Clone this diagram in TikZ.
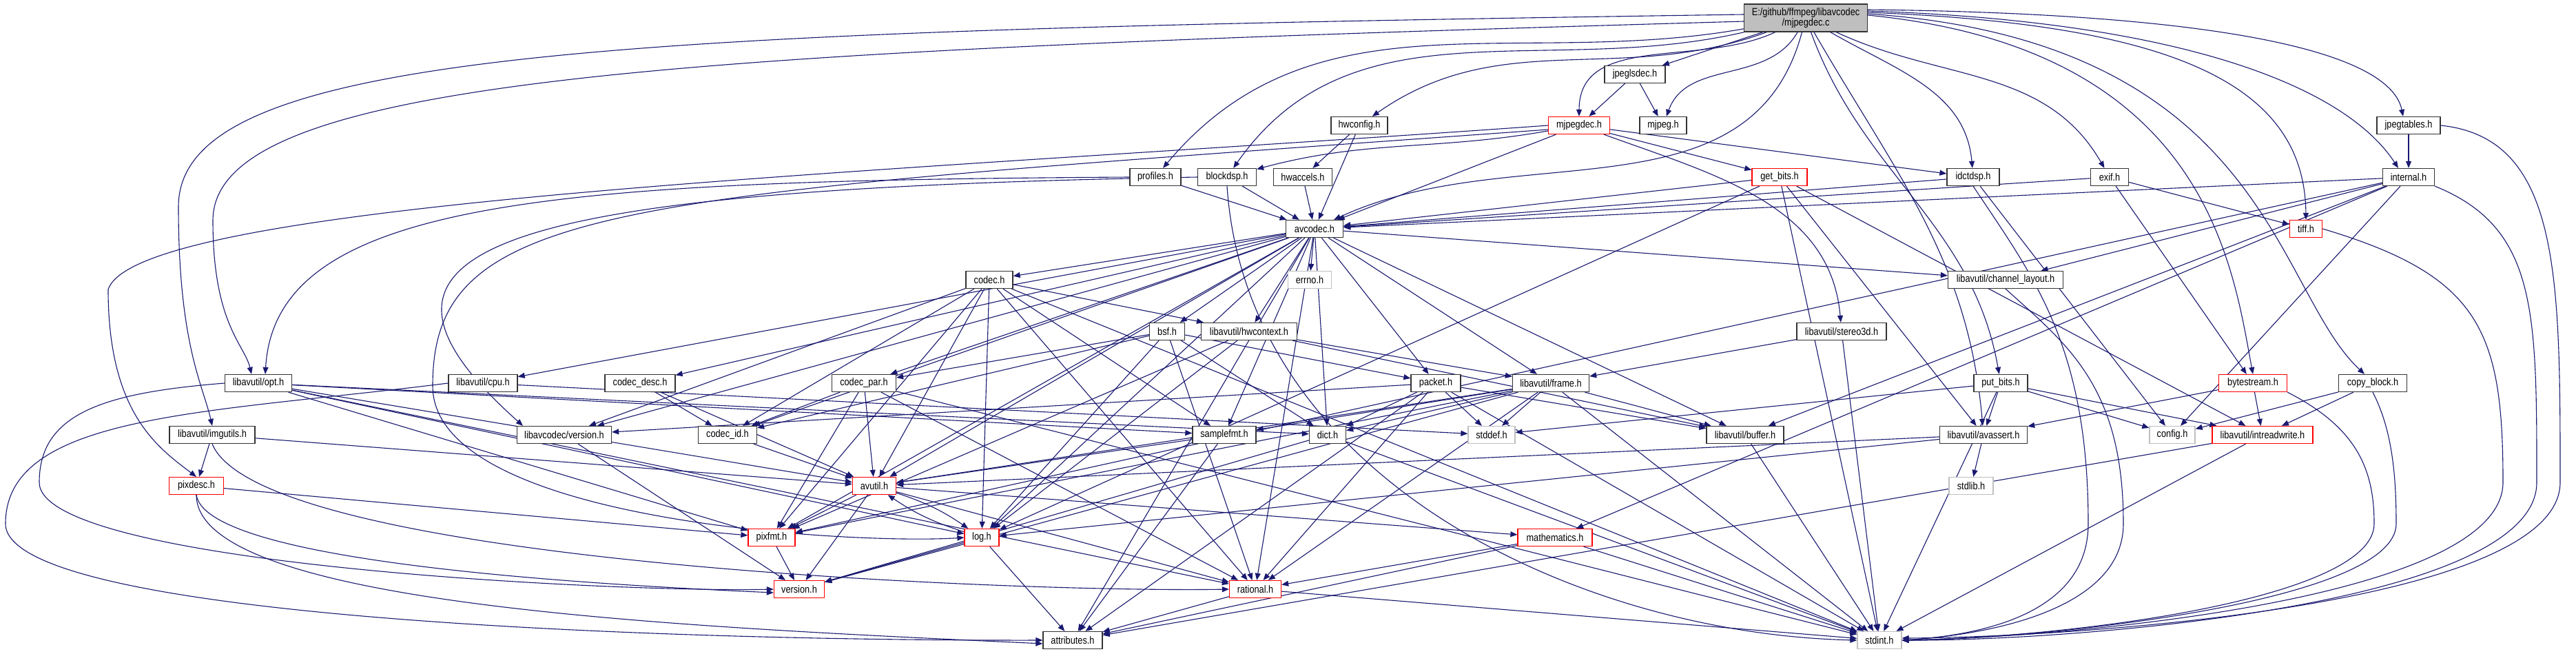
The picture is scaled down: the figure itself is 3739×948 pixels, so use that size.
\documentclass[tikz,border=0pt]{standalone}
\usepackage{fontspec}
\setmainfont{Liberation Sans}[FakeStretch=0.85]
\usetikzlibrary{arrows.meta}
\definecolor{ec}{HTML}{191970}
\definecolor{gbord}{HTML}{BFBFBF}
\pgfdeclarelayer{bg}
\pgfdeclarelayer{paper}
\pgfsetlayers{paper,bg,main}
\begin{document}
\begin{tikzpicture}[x=1pt,y=1pt,
 nb/.style={draw=black!80, fill=white, line width=1.3pt, minimum height=25pt, inner sep=0pt, font=\fontsize{15}{15}\selectfont},
 nr/.style={nb, draw=red},
 ng/.style={nb, draw=gbord},
 ed/.style={draw=ec, line width=1.1pt, -{Triangle[length=10pt,width=8pt]}}]
\useasboundingbox (0,0) rectangle (3739,-948);
\begin{pgfonlayer}{paper}
\fill[white] (0,0) rectangle (3739,-948);
\end{pgfonlayer}
% nodes
\node[nb, fill=gbord, minimum width=179pt, minimum height=40pt, align=center] (m) at (2621,-26) {E:/github/ffmpeg/libavcodec\\/mjpegdec.c};
\node[nb, minimum width=88pt] (jls) at (2373,-108) {jpeglsdec.h};
\node[nr, minimum width=89pt] (mjd) at (2292,-182) {mjpegdec.h};
\node[nb, minimum width=68pt] (mjp) at (2414,-182) {mjpeg.h};
\node[nb, minimum width=82pt] (hwc) at (1973,-182) {hwconfig.h};
\node[nb, minimum width=92pt] (jpt) at (3496,-182) {jpegtables.h};
\node[nb, minimum width=74pt] (prof) at (1677,-257) {profiles.h};
\node[nb, minimum width=85pt] (bdsp) at (1781,-257) {blockdsp.h};
\node[nb, minimum width=85pt] (hwa) at (1891,-257) {hwaccels.h};
\node[nr, minimum width=80pt] (gb) at (2583,-257) {get\_bits.h};
\node[nb, minimum width=76pt] (idct) at (2864,-257) {idctdsp.h};
\node[nb, minimum width=55pt] (exif) at (3062,-257) {exif.h};
\node[nb, minimum width=75pt] (intl) at (3496,-257) {internal.h};
\node[nb, minimum width=83pt] (avc) at (1908,-332) {avcodec.h};
\node[nr, minimum width=47pt] (tiff) at (3347,-332) {tiff.h};
\node[ng, minimum width=63pt] (errno) at (1901,-406) {errno.h};
\node[nb, minimum width=68pt] (codec) at (1436,-406) {codec.h};
\node[nb, minimum width=167pt] (chl) at (2911,-406) {libavutil/channel\_layout.h};
\node[nb, minimum width=51pt] (bsf) at (1694,-481) {bsf.h};
\node[nb, minimum width=139pt] (hwctx) at (1813,-481) {libavutil/hwcontext.h};
\node[nb, minimum width=130pt] (s3d) at (2673,-481) {libavutil/stereo3d.h};
\node[nb, minimum width=97pt] (opt) at (375,-556) {libavutil/opt.h};
\node[nb, minimum width=100pt] (cpu) at (701,-556) {libavutil/cpu.h};
\node[nb, minimum width=102pt] (cdesc) at (929,-556) {codec\_desc.h};
\node[nb, minimum width=93pt] (cpar) at (1254,-556) {codec\_par.h};
\node[nb, minimum width=72pt] (pkt) at (2084,-556) {packet.h};
\node[nb, minimum width=111pt] (frame) at (2251,-556) {libavutil/frame.h};
\node[nb, minimum width=78pt] (pb) at (2904,-556) {put\_bits.h};
\node[nr, minimum width=99pt] (bs) at (3270,-556) {bytestream.h};
\node[nb, minimum width=99pt] (cb) at (3444,-556) {copy\_block.h};
\node[nb, minimum width=124pt] (img) at (308,-631) {libavutil/imgutils.h};
\node[nb, minimum width=137pt] (lver) at (819,-631) {libavcodec/version.h};
\node[nb, minimum width=85pt] (cid) at (1056,-631) {codec\_id.h};
\node[nb, minimum width=92pt] (sfmt) at (1777,-631) {samplefmt.h};
\node[nb, minimum width=53pt] (dict) at (1927,-631) {dict.h};
\node[ng, minimum width=68pt] (stddef) at (2165,-631) {stddef.h};
\node[nb, minimum width=112pt] (buf) at (2533,-631) {libavutil/buffer.h};
\node[nb, minimum width=127pt] (avas) at (2879,-631) {libavutil/avassert.h};
\node[ng, minimum width=66pt] (cfg) at (3153,-631) {config.h};
\node[nr, minimum width=146pt] (irw) at (3284,-631) {libavutil/intreadwrite.h};
\node[nr, minimum width=79pt] (pixd) at (285,-705) {pixdesc.h};
\node[nr, minimum width=63pt] (avu) at (1269,-705) {avutil.h};
\node[ng, minimum width=64pt] (stdlib) at (2861,-705) {stdlib.h};
\node[nr, minimum width=68pt] (pixf) at (1120,-780) {pixfmt.h};
\node[nr, minimum width=50pt] (log) at (1425,-780) {log.h};
\node[nr, minimum width=108pt] (math) at (2257,-780) {mathematics.h};
\node[nr, minimum width=73pt] (ver) at (1160,-855) {version.h};
\node[nr, minimum width=75pt] (rat) at (1822,-855) {rational.h};
\node[nb, minimum width=86pt] (attr) at (1557,-929) {attributes.h};
\node[ng, minimum width=64pt] (stdint) at (2728,-929) {stdint.h};
% waypoints
\coordinate (k1) at (259,-300);
\coordinate (k2) at (309,-320);
\coordinate (k3) at (157,-420);
\coordinate (k4) at (628,-560);
\coordinate (k5) at (8,-760);
\coordinate (k6) at (57,-700);
\coordinate (r1) at (3716,-700);
\coordinate (r2) at (3682,-700);
\coordinate (r3) at (3633,-700);
\coordinate (r4) at (3478,-760);
\coordinate (r4b) at (3446,-760);
\coordinate (r5) at (3082,-760);
\coordinate (r6) at (3031,-760);
\begin{pgfonlayer}{bg}
% main file
\draw[ed] ([yshift=5]m.west) .. controls (900,-45) and (259,-70) .. (k1) .. controls (259,-500) and (295,-560) .. (img.north);
\draw[ed] ([yshift=-5]m.west) .. controls (1000,-75) and (309,-110) .. (k2) .. controls (309,-470) and (355,-500) .. ([xshift=-10]opt.north);
\draw[ed] (m) to[out=190,in=50] (prof);
\draw[ed] (m) to[out=193,in=55] (bdsp);
\draw[ed] (m) to[out=200,in=35] (hwc);
\draw[ed] (m) to[out=205,in=90] (mjd);
\draw[ed] (m) -- (jls);
\draw[ed] (m) to[out=-120,in=70] (mjp);
\draw[ed] (m) to[out=-105,in=25] (avc);
\draw[ed] (m) to[out=-30,in=95] (idct);
\draw[ed] (m) to[out=-25,in=120] (exif);
\draw[ed] ([yshift=8]m.east) .. controls (3150,-35) and (3345,-120) .. (tiff.north);
\draw[ed] ([yshift=4]m.east) .. controls (3200,-70) and (3240,-380) .. (bs.north);
\draw[ed] ([yshift=6]m.east) .. controls (3290,-60) and (3300,-420) .. ([xshift=-12]cb.north);
\draw[ed] (m) to[out=-70,in=100] (pb);
\draw[ed] (m) to[out=-60,in=95] (avas);
\draw[ed] ([yshift=10]m.east) .. controls (3150,-30) and (3400,-120) .. ([xshift=-15]intl.north);
\draw[ed] ([yshift=12]m.east) .. controls (3250,-20) and (3470,-80) .. ([xshift=-8]jpt.north);
% mjpegdec.h
\draw[ed] (mjd.west) .. controls (1300,-250) and (200,-290) .. (k3) .. controls (157,-600) and (230,-650) .. (pixd.north);
\draw[ed] ([yshift=-6]mjd.west) .. controls (900,-285) and (628,-290) .. (k4) .. controls (628,-760) and (1250,-790) .. (log.west);
\draw[ed] (mjd) to[out=190,in=15] (bdsp);
\draw[ed] (mjd) -- (avc);
\draw[ed] (mjd) -- (gb);
\draw[ed] (mjd) -- (idct);
\draw[ed] (mjd) to[out=-20,in=95] (s3d);
% profiles / blockdsp
\draw[ed] (prof.west) .. controls (800,-262) and (400,-290) .. ([xshift=10]opt.north);
\draw[ed] (bdsp.west) .. controls (700,-275) and (470,-360) .. ([xshift=-60]lver.north);
\draw[ed] (bdsp.south) .. controls (1810,-700) and (2300,-920) .. (stdint.west);
% far-left sweeping curves
\draw[ed] (cpu.west) .. controls (300,-600) and (8,-600) .. (k5) .. controls (8,-900) and (1000,-930) .. (attr.west);
\draw[ed] (opt.west) .. controls (150,-570) and (57,-600) .. (k6) .. controls (57,-820) and (900,-860) .. (ver.west);
\draw[ed] (pixd.south) .. controls (285,-880) and (1000,-910) .. ([yshift=-5]attr.west);
\draw[ed] (pixd.south) .. controls (300,-820) and (900,-850) .. ([yshift=-5]ver.west);
\draw[ed] (img.south) .. controls (380,-820) and (1500,-860) .. (rat.west);
% right side into stdint
\draw[ed] (jpt.east) .. controls (3716,-200) and (3716,-400) .. (r1) .. controls (3716,-880) and (3000,-925) .. ([yshift=3]stdint.east);
\draw[ed] (intl.south east) .. controls (3682,-330) and (3682,-450) .. (r2) .. controls (3682,-880) and (3000,-930) .. (stdint.east);
\draw[ed] (tiff.east) .. controls (3600,-400) and (3633,-480) .. (r3) .. controls (3633,-870) and (3000,-925) .. (stdint.east);
\draw[ed] (cb.south) .. controls (3470,-620) and (3478,-680) .. (r4) .. controls (3478,-870) and (3000,-925) .. (stdint.east);
\draw[ed] (bs.south east) .. controls (3420,-620) and (3446,-680) .. (r4b) .. controls (3446,-870) and (3000,-925) .. (stdint.east);
\draw[ed] (idct.south) .. controls (2950,-400) and (3031,-500) .. (r6) .. controls (3031,-880) and (2900,-920) .. (stdint.east);
\draw[ed] (chl.south) .. controls (3000,-500) and (3082,-560) .. (r5) .. controls (3082,-880) and (2900,-920) .. (stdint.east);
% straight edges
\foreach \a/\b in {jls/mjd, jls/mjp, hwc/hwa, hwc/avc, hwa/avc, prof/avc, bdsp/avc,
 gb/avc, idct/avc, exif/avc, exif/tiff, exif/bs, intl/avc, intl/chl, jpt/intl,
 avc/errno, avc/codec, avc/bsf, avc/hwctx, avc/pkt, avc/frame, avc/dict, avc/buf, avc/sfmt,
 avc/cpu, avc/cdesc, avc/cpar, avc/cid, avc/lver, avc/avu, avc/log, avc/pixf, avc/rat, avc/attr, avc/chl,
 codec/hwctx, codec/lver, codec/cid, codec/avu, codec/log, codec/pixf, codec/rat, codec/sfmt, codec/stdint,
 bsf/dict, bsf/log, bsf/rat, bsf/cid, bsf/cpar, bsf/pkt,
 hwctx/buf, hwctx/frame, hwctx/log, hwctx/pixf,
 s3d/frame, s3d/stdint,
 opt/avu, opt/rat, opt/dict, opt/log, opt/pixf, opt/sfmt,
 cpu/stddef, cdesc/avu, cdesc/cid,
 cpar/avu, cpar/rat, cpar/pixf, cpar/cid, cpar/stdint,
 pkt/stddef, pkt/stdint, pkt/attr, pkt/buf, pkt/dict, pkt/rat, pkt/lver,
 frame/stddef, frame/stdint, frame/avu, frame/buf, frame/dict, frame/rat, frame/sfmt, frame/pixf, frame/ver,
 pb/stdint, pb/stddef, pb/cfg, pb/irw, pb/avas,
 bs/avas, bs/irw, cb/irw, cb/cfg,
 img/avu, img/pixd,
 lver/ver, cid/avu, sfmt/avu, sfmt/attr, dict/stdint, dict/ver, buf/stdint,
 avas/stdlib, avas/avu, avas/log,
 irw/attr, irw/stdint,
 pixd/pixf,
 avu/pixf, avu/ver, avu/math, avu/rat,
 log/attr, log/ver, pixf/ver,
 math/rat, math/attr, math/stdint,
 rat/attr, rat/stdint,
 gb/avas, gb/irw, gb/stdint, gb/log,
 idct/cfg, intl/buf, intl/cfg, intl/pixf, intl/math}
  \draw[ed] (\a) -- (\b);
\draw[ed] (avu) to[bend left=8] (log);
\draw[ed] (log) to[bend left=8] (avu);
\end{pgfonlayer}
\end{tikzpicture}
\end{document}
